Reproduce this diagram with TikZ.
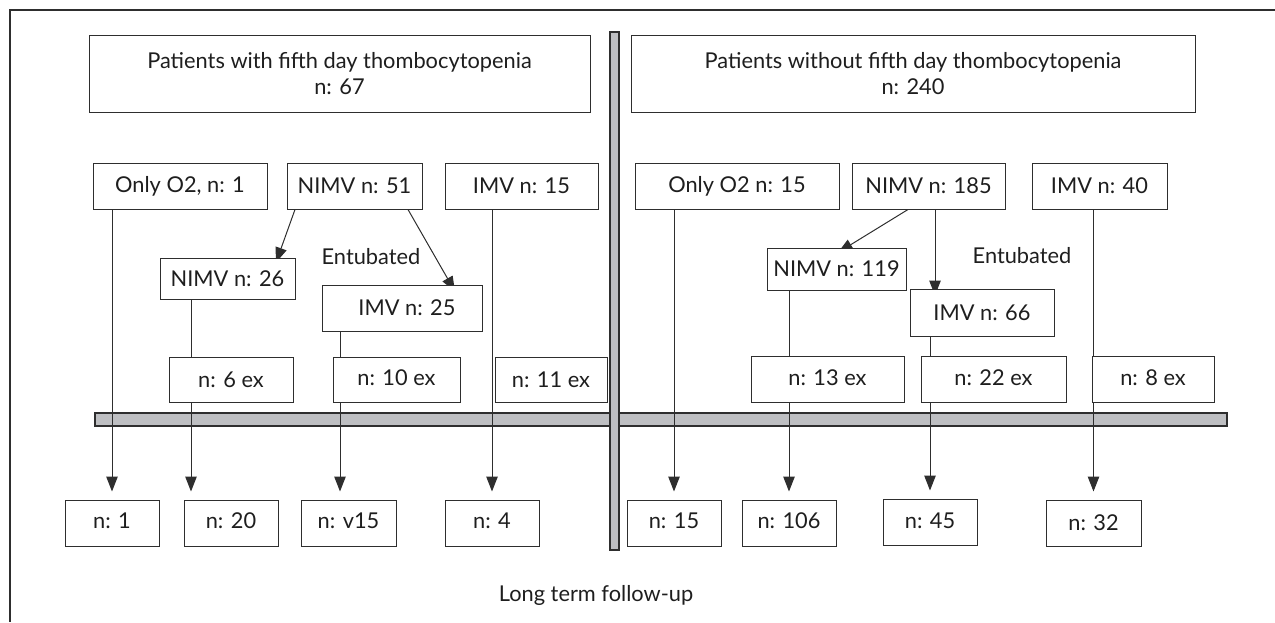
\documentclass[tikz,border=0pt]{standalone}
\usepackage{fontspec}
\setmainfont{Lato}
\usetikzlibrary{arrows.meta}
\pgfdeclarelayer{bars}
\pgfdeclarelayer{lines}
\pgfsetlayers{bars,lines,main}
\definecolor{edge}{HTML}{2E2E2E}
\definecolor{barfill}{HTML}{BEBFC2}
\definecolor{txt}{HTML}{1E1E1E}
\tikzset{
  box/.style={draw=edge, fill=white, line width=1pt, inner sep=0pt, text=txt,
    font=\fontsize{21.8}{26}\selectfont, align=center},
  conn/.style={draw=edge, line width=1pt},
  arr/.style={conn, -{Triangle[length=15pt,width=11.5pt]}},
  barbox/.style={draw=edge, fill=barfill, line width=1.2pt},
  lbl/.style={text=txt, font=\fontsize{21.8}{26}\selectfont, inner sep=0pt}
}
\begin{document}
\begin{tikzpicture}[x=1pt,y=-1pt]
\useasboundingbox (0,0) rectangle (1275,622);
% frame
\coordinate (ftl) at (10,10);
\coordinate (ftr) at (1275,10);
\coordinate (fbl) at (10,622);
\draw[draw=edge, line width=1.3pt] (ftr) -- (ftl) -- (fbl);

% headers
\node[box, minimum width=501pt, minimum height=77pt] (hL) at (339.5,73.5) {Patients with fifth day thombocytopenia\\n: 67};
\node[box, minimum width=564pt, minimum height=77pt] (hR) at (913,73.5) {Patients without fifth day thombocytopenia\\n: 240};

% row 2
\node[box, minimum width=174pt, minimum height=46pt] (o2L) at (180,186) {Only O2, n: 1};
\node[box, minimum width=135pt, minimum height=46pt] (nimvL) at (354.5,186) {NIMV n: 51};
\node[box, minimum width=153pt, minimum height=46pt] (imvL) at (521.5,186) {IMV n: 15};
\node[box, minimum width=204pt, minimum height=46pt] (o2R) at (737,186) {Only O2 n: 15};
\node[box, minimum width=153pt, minimum height=46pt] (nimvR) at (928.5,186) {NIMV n: 185};
\node[box, minimum width=135pt, minimum height=46pt] (imvR) at (1099.5,186) {IMV n: 40};

% row 3
\node[box, minimum width=135pt, minimum height=41pt] (nimv26) at (227.5,278.5) {NIMV n: 26};
\node[box, minimum width=160pt, minimum height=46pt] (imv25) at (402,308) {\hspace*{10pt}IMV n: 25};
\node[box, minimum width=139pt, minimum height=42pt] (nimv119) at (836.5,269) {NIMV n: 119};
\node[box, minimum width=144pt, minimum height=47pt] (imv66) at (982,312.5) {IMV n: 66};
\node[lbl] (entL) at (371,257) {Entubated};
\node[lbl] (entR) at (1022,256) {Entubated};

% ex row
\node[box, minimum width=124pt, minimum height=45pt] (ex6) at (231,379.5) {n: 6 ex};
\node[box, minimum width=127pt, minimum height=45pt] (ex10) at (396.5,379.5) {\raisebox{3pt}{n: 10 ex}};
\node[box, minimum width=112pt, minimum height=45pt] (ex11) at (551,379.5) {n: 11 ex};
\node[box, minimum width=153pt, minimum height=46pt] (ex13) at (827.5,379) {\raisebox{3pt}{n: 13 ex}};
\node[box, minimum width=145pt, minimum height=46pt] (ex22) at (993.5,379) {\raisebox{3pt}{n: 22 ex}};
\node[box, minimum width=122pt, minimum height=46pt] (ex8) at (1153,379) {\raisebox{3pt}{n: 8 ex}};

% bottom row
\node[box, minimum width=94pt, minimum height=46pt] (b1) at (112,523) {\raisebox{4pt}{n: 1}};
\node[box, minimum width=94pt, minimum height=46pt] (b20) at (231,523) {\raisebox{4pt}{n: 20}};
\node[box, minimum width=95pt, minimum height=46pt] (b15v) at (348.5,523) {\raisebox{4pt}{n: v15}};
\node[box, minimum width=94pt, minimum height=46pt] (b4) at (492,523) {\raisebox{4pt}{n: 4}};
\node[box, minimum width=94pt, minimum height=46pt] (b15) at (674,523) {\raisebox{4pt}{n: 15}};
\node[box, minimum width=94pt, minimum height=46pt] (b106) at (789,523) {\raisebox{4pt}{n: 106}};
\node[box, minimum width=94pt, minimum height=46pt] (b45) at (930,522) {\raisebox{3pt}{n: 45}};
\node[box, minimum width=95pt, minimum height=46pt] (b32) at (1093.5,523) {n: 32};

\node[lbl] (follow) at (596,595) {Long term follow-up};

% bars
\begin{pgfonlayer}{bars}
\draw[barbox] (95,413) rectangle (1227,426);
\draw[barbox] (610,32) rectangle (619,550);
\end{pgfonlayer}

% connectors
\begin{pgfonlayer}{lines}
\coordinate (s26) at ([xshift=-36.5pt]nimv26.south);
\coordinate (s25) at ([xshift=-62pt]imv25.south);
\coordinate (sL1) at ([xshift=-59.5pt]nimvL.south);
\coordinate (sL2) at ([xshift=53.5pt]nimvL.south);
\coordinate (tL1) at ([xshift=48.5pt,yshift=-5pt]nimv26.north);
\coordinate (tL2) at ([xshift=53pt,yshift=-7pt]imv25.north);
\coordinate (sR1) at ([xshift=-20.5pt]nimvR.south);
\coordinate (sR2) at ([xshift=6.5pt]nimvR.south);
\coordinate (tR1) at ([xshift=1.5pt,yshift=-5pt]nimv119.north);
\coordinate (tR2) at ([yshift=-7pt]imv66.north -| sR2);

\draw[arr, shorten >=8pt] (b1.north |- o2L.south) -- (b1.north);
\draw[arr, shorten >=8pt] (s26) -- (s26 |- b20.north);
\draw[arr, shorten >=8pt] (s25) -- (s25 |- b15v.north);
\draw[arr, shorten >=8pt] (b4.north |- imvL.south) -- (b4.north);
\draw[arr, shorten >=8pt] (b15.north |- o2R.south) -- (b15.north);
\draw[arr, shorten >=8pt] (b106.north |- nimv119.south) -- (b106.north);
\draw[arr, shorten >=8pt] (b45.north |- imv66.south) -- (b45.north);
\draw[arr, shorten >=8pt] (b32.north |- imvR.south) -- (b32.north);

\draw[arr] (sL1) -- (tL1);
\draw[arr] (sL2) -- (tL2);
\draw[arr] (sR1) -- (tR1);
\draw[arr] (sR2) -- (tR2);
\end{pgfonlayer}
\end{tikzpicture}
\end{document}
